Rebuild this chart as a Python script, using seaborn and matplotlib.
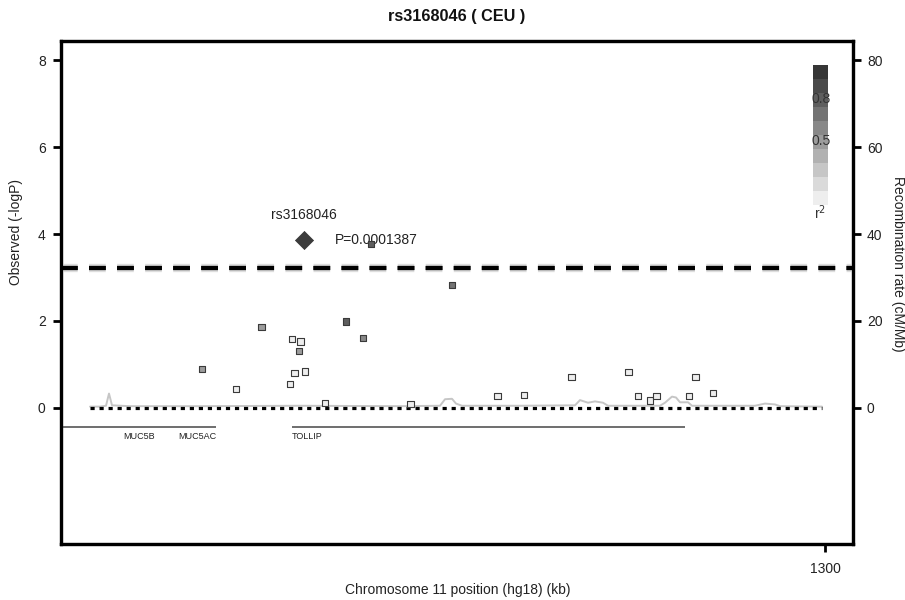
import numpy as np
import pandas as pd
import matplotlib
matplotlib.use("Agg")
import matplotlib.pyplot as plt
import seaborn as sns
from matplotlib.colors import LinearSegmentedColormap, ListedColormap
import matplotlib.patheffects as pe

# ---------------- data ----------------
snp_pos = [1186.5, 1206.7, 1159.1, 1180.2, 1184.5, 1166.75, 1168.9, 1168.5,
           1144.2, 1167.4, 1170.0, 1166.3, 1152.8, 1175.0, 1196.4, 1218.1,
           1224.75, 1236.6, 1250.9, 1253.2, 1256.2, 1257.9, 1266.0, 1267.6, 1272.0]
snp_logp = [3.77, 2.83, 1.86, 1.99, 1.61, 1.59, 1.53, 1.31,
            0.89, 0.80, 0.84, 0.55, 0.43, 0.12, 0.09, 0.28,
            0.30, 0.72, 0.83, 0.28, 0.17, 0.28, 0.28, 0.72, 0.34]
snp_r2 = [0.75, 0.65, 0.45, 0.75, 0.55, 0.0, 0.0, 0.45,
          0.45, 0.0, 0.0, 0.0, 0.0, 0.0, 0.0, 0.0,
          0.0, 0.0, 0.0, 0.0, 0.0, 0.0, 0.0, 0.0, 0.0]

lead_snp = "rs3168046"
lead_pos = [1169.8]
lead_logp = [3.86]
lead_pval = "P=0.0001387"

threshold = 3.22

recomb_pos = [1116.25, 1118.75, 1120.25, 1121.0, 1121.75, 1126.25, 1143.75, 1168.75,
              1193.75, 1203.75, 1205.0, 1206.75, 1207.75, 1209.25, 1223.75, 1237.5,
              1238.75, 1240.75, 1242.5, 1244.5, 1245.75, 1258.75, 1260.0, 1261.75,
              1262.75, 1263.75, 1265.75, 1266.75, 1282.5, 1285.0, 1287.5, 1288.75, 1299.25]
recomb_rate = [0.3, 0.3, 0.5, 3.3, 0.6, 0.4, 0.4, 0.5,
               0.4, 0.5, 2.0, 2.1, 1.0, 0.5, 0.5, 0.6,
               1.8, 1.2, 1.5, 1.2, 0.5, 0.5, 1.2, 2.6,
               2.4, 1.3, 1.3, 0.5, 0.5, 1.0, 0.8, 0.4, 0.3]

gene_names = ["MUC5B", "MUC5AC", "TOLLIP"]
gene_start = [1109.0, 1132.5, 1166.75]
gene_end = [1132.5, 1147.75, 1265.0]
gene_label_align = ["right", "right", "left"]

title = "rs3168046 ( CEU )"
x_ticks = [1300]
y_ticks = [0, 2, 4, 6, 8]
y2_ticks = [0, 20, 40, 60, 80]
cbar_labels = ["0.8", "0.5"]

# ---------------- style ----------------
sns.set_theme(style="white")
plt.rcParams["font.family"] = ["Liberation Sans", "DejaVu Sans"]
plt.rcParams["lines.scale_dashes"] = False

W, H = 905, 600
fig = plt.figure(figsize=(W / 100, H / 100), dpi=100)
fig.patch.set_facecolor("white")

def fx(px):
    return px / W

def fy(py):
    return 1 - py / H

ax = fig.add_axes([fx(61), fy(544), fx(853) - fx(61), fy(41) - fy(544)])
ax2 = ax.twinx()
ax.set_zorder(ax2.get_zorder() + 1)
ax.patch.set_visible(False)

xlim = (1109.0, 1307.0)
ylim = (-3.13, 8.44)
ax.set_xlim(xlim)
ax.set_ylim(ylim)
ax2.set_ylim(ylim[0] * 10, ylim[1] * 10)

gray_map = ListedColormap(
    LinearSegmentedColormap.from_list("g", ["#eeeeee", "#363636"])(np.linspace(0, 1, 10)))

# recombination rate line (right axis)
rec_df = pd.DataFrame({"pos": recomb_pos, "rate": recomb_rate})
sns.lineplot(data=rec_df, x="pos", y="rate", ax=ax2, color="#c6c6c6", lw=1.4,
             estimator=None, sort=False)

# threshold dashed line
ax.axhline(threshold, color="black", lw=3.0, dashes=(12, 8.2), solid_capstyle="butt",
           dash_capstyle="butt",
           path_effects=[pe.withStroke(linewidth=6.0, foreground="#dedede"), pe.Normal()])

# baseline dotted
ax.plot([recomb_pos[0], recomb_pos[-1]], [0, 0], color="black", lw=2.3,
        dashes=(3.0, 3.5), dash_capstyle="butt")

# genes
for name, s, e, ha in zip(gene_names, gene_start, gene_end, gene_label_align):
    ax.plot([s, e], [-0.44, -0.44], color="#555555", lw=1.2, solid_capstyle="butt")
    ax.text(e if ha == "right" else s, -0.55, name, ha=ha, va="top",
            fontsize=6.5, color="#222222")

# SNPs
snp_df = pd.DataFrame({"pos": snp_pos, "logp": snp_logp, "r2": snp_r2})
sns.scatterplot(data=snp_df, x="pos", y="logp", hue="r2", palette=gray_map,
                hue_norm=(0, 1), marker="s", s=20, edgecolor="#3a3a3a",
                linewidth=0.8, legend=False, ax=ax, zorder=5)

lead_df = pd.DataFrame({"pos": lead_pos, "logp": lead_logp})
sns.scatterplot(data=lead_df, x="pos", y="logp", marker="D", s=85, color="#3c3c3c",
                edgecolor="#333333", linewidth=0.5, legend=False, ax=ax, zorder=6)
ax.annotate(lead_snp, (lead_pos[0], lead_logp[0]), xytext=(0, 13),
            textcoords="offset points", ha="center", va="bottom", fontsize=10,
            color="#222222")
ax.annotate(lead_pval, (lead_pos[0], lead_logp[0]), xytext=(22, 0),
            textcoords="offset points", ha="left", va="center", fontsize=10,
            color="#222222")

# axes styling
for a in (ax, ax2):
    for sp in a.spines.values():
        sp.set_linewidth(2.3)
        sp.set_color("black")
    a.grid(False)

ax.set_xticks(x_ticks)
ax.set_xticklabels([str(t) for t in x_ticks])
ax.set_yticks(y_ticks)
ax.set_yticklabels([str(t) for t in y_ticks])
ax2.set_yticks(y2_ticks)
ax2.set_yticklabels([str(t) for t in y2_ticks])
ax.tick_params(axis="both", direction="out", length=6, width=2, labelsize=10,
               colors="black", labelcolor="#222222", pad=5, left=True, bottom=True)
ax.tick_params(axis="x", pad=7)
ax2.tick_params(axis="y", direction="out", length=6, width=2, labelsize=10,
                colors="black", labelcolor="#222222", pad=4, right=True)
ax.set_xlabel("")
ax.set_ylabel("")
ax2.set_ylabel("")

fig.text(fx(457), fy(17), title, ha="center", va="center", fontsize=11.7,
         fontweight="bold", color="#111111")
fig.text(fx(458), fy(590), "Chromosome 11 position (hg18) (kb)", ha="center",
         va="center", fontsize=10, color="#222222")
fig.text(fx(16), fy(232), "Observed (-logP)", ha="center", va="center",
         rotation=90, fontsize=10, color="#222222")
fig.text(fx(898), fy(264), "Recombination rate (cM/Mb)", ha="center", va="center",
         rotation=-90, fontsize=10, color="#222222")

# r^2 color key
cax = fig.add_axes([fx(813), fy(205), fx(828) - fx(813), fy(65) - fy(205)])
levels = np.linspace(0.95, 0.05, 10).reshape(-1, 1)
sns.heatmap(pd.DataFrame(levels), cmap=gray_map, vmin=0, vmax=1, cbar=False,
            xticklabels=False, yticklabels=False, ax=cax)
cax.set_xlabel("")
cax.set_ylabel("")
fig.text(fx(821), fy(99), cbar_labels[0], ha="center", va="center", fontsize=10,
         color="#333333")
fig.text(fx(821), fy(141), cbar_labels[1], ha="center", va="center", fontsize=10,
         color="#333333")
fig.text(fx(820), fy(213), "r$^2$", ha="center", va="center", fontsize=10,
         color="#333333")

fig.savefig("out.png", dpi=100)
